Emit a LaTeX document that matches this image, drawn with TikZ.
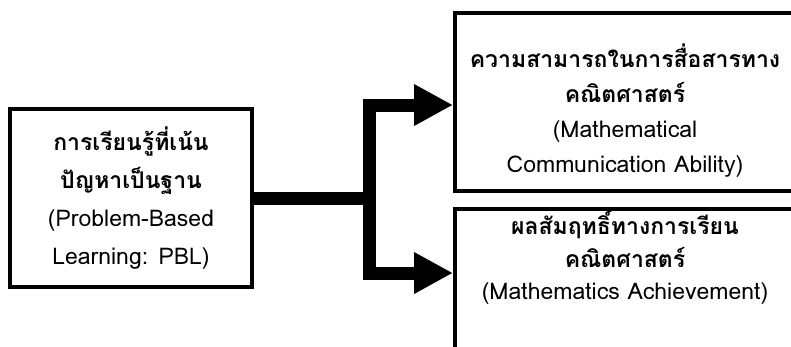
\documentclass[tikz,border=0pt]{standalone}
\usepackage{fontspec}
\setmainfont[Script=Thai]{Loma}
\usetikzlibrary{arrows.meta}
\tikzset{
  >={Triangle[length=39pt,width=39pt]},
  box/.style={draw, line width=4pt, align=center, inner sep=2pt},
}

\begin{document}
\begin{tikzpicture}[x=1pt,y=-1pt]
    \path[use as bounding box,fill=white] (0,0) rectangle (791,346);
    \clip (0,0) rectangle (791,346);
    % boxes
    \node[box,minimum width=242pt,minimum height=178pt,font=\fontsize{23}{38}\selectfont] (pbl) at (131,198)
      {\textbf{การเรียนรู้ที่เน้น}\\\textbf{ปัญหาเป็นฐาน}\\(Problem-Based\\Learning: PBL)};
    \node[box,minimum width=340pt,minimum height=178pt,font=\fontsize{23}{35}\selectfont] (comm) at (625,102)
      {\rule{0pt}{10pt}\\[-4pt]\textbf{ความสามารถในการสื่อสารทาง}\\\textbf{คณิตศาสตร์}\\(Mathematical\\Communication Ability)};
    \node[box,anchor=north,minimum width=340pt,minimum height=178pt,inner ysep=1pt,font=\fontsize{23}{32.5}\selectfont] (ach) at (625,207)
      {\textbf{ผลสัมฤทธิ์ทางการเรียน}\\\textbf{คณิตศาสตร์}\\(Mathematics Achievement)\\\rule{0pt}{80pt}};
    \coordinate (split) at (369,198);
    % arrows
    \begin{scope}[->,line width=13pt]
      \draw (pbl.east) -- (split) |- ([yshift=-3pt]comm.west);
      \draw (split) |- ([yshift=-66pt]ach.north west);
    \end{scope}
\end{tikzpicture}
\end{document}
